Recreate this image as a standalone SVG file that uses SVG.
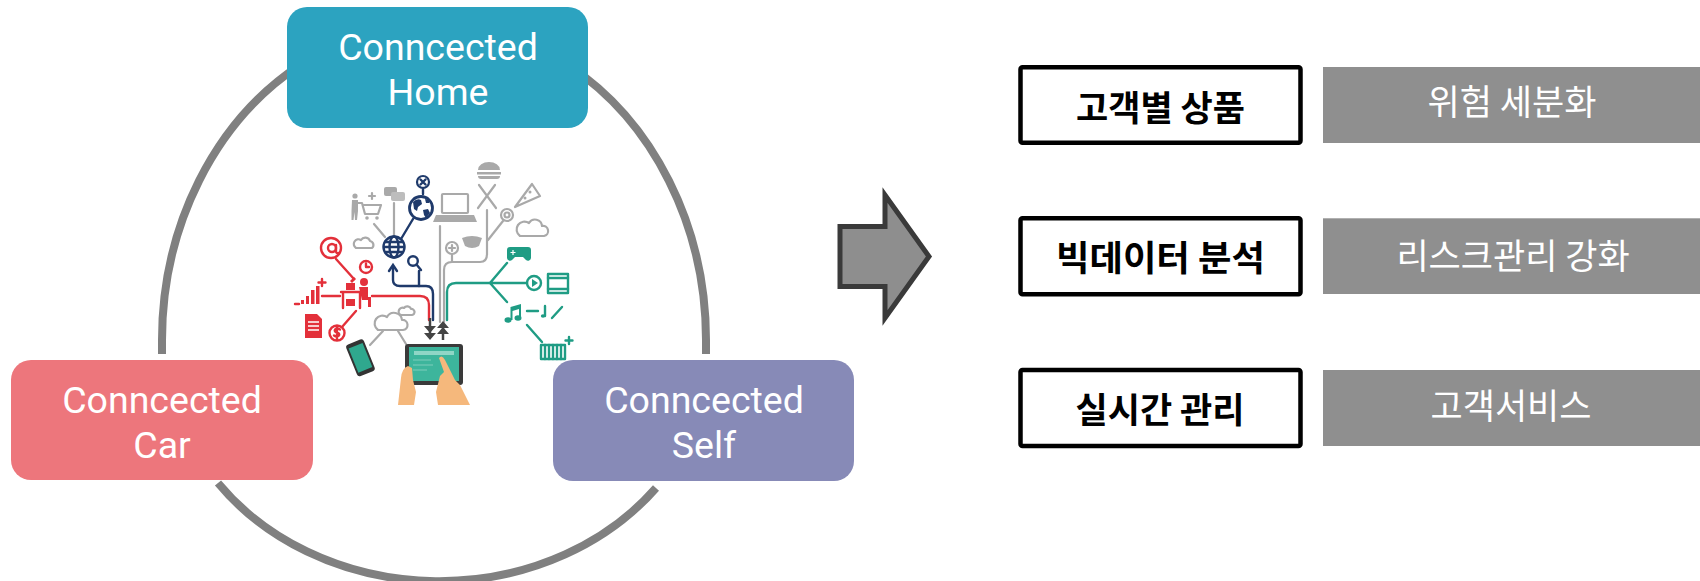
<svg xmlns="http://www.w3.org/2000/svg" width="1700" height="581" viewBox="0 0 1700 581">
<style>
.node-text{font-family:Roboto,"Open Sans",sans-serif;font-size:37.5px;fill:#ffffff;text-anchor:middle}
.kb{font-family:"Noto Sans CJK KR",sans-serif;font-size:35px;font-weight:700;fill:#000000;text-anchor:middle}
.kw{font-family:"Noto Sans CJK KR",sans-serif;font-size:35px;font-weight:400;fill:#ffffff;text-anchor:middle}
.wbox{fill:#ffffff;stroke:#000000;stroke-width:4.5}
.gbox{fill:#8f8f8f}
.arc{fill:none;stroke:#808080;stroke-width:8}
.g{stroke:#a9a9a9;fill:none;stroke-width:2.2;stroke-linecap:round;stroke-linejoin:round}
.gf{fill:#a9a9a9}
.n{stroke:#1f3a6b;fill:none;stroke-width:2.4;stroke-linecap:round}
.nf{fill:#1f3a6b}
.r{stroke:#e3303a;fill:none;stroke-width:2.4;stroke-linecap:round;stroke-linejoin:round}
.rf{fill:#e3303a}
.t{stroke:#1f9c84;fill:none;stroke-width:2.4;stroke-linecap:round;stroke-linejoin:round}
.tf{fill:#1f9c84}
.dk{fill:#444444}
</style>

<g id="connectors">
  <path class="arc" d="M300,65 A272,316 0 0 0 162,340 L162,354"/>
  <path class="arc" d="M568,65 A272,316 0 0 1 706,340 L706,354"/>
  <path class="arc" d="M218,483 A272,235 0 0 0 656,488"/>
</g>

<g id="illustration">
  <g id="ill-gray">
    <circle class="gf" cx="355" cy="196" r="2.6"/>
    <path class="gf" d="M352,200 h6 v11 l-1,9 h-2 l-0.5,-8 l-1,8 h-2 l0,-9 z"/>
    <path class="g" d="M358,203 L362,203 L365,214 H378 L381,205 H364"/>
    <circle class="gf" cx="367" cy="218" r="1.8"/>
    <circle class="gf" cx="377" cy="218" r="1.8"/>
    <path class="g" d="M372,193 v6 M369,196 h6" stroke-width="1.6"/>
    <rect class="gf" x="384" y="187" width="13" height="9" rx="2"/>
    <rect x="391" y="192" width="14" height="9" rx="2" fill="#bdbdbd"/>
    <path class="g" d="M394,203 V235"/>
    <path class="g" d="M374,224 L385,237"/>
    <path class="g" d="M356,248 h16 a4,4 0 0 0 -2,-7 a5,5 0 0 0 -9,-1 a4,4 0 0 0 -5,8 z" stroke-width="1.6"/>
    <rect class="g" x="442" y="194" width="26" height="19" rx="1" stroke-width="2.4"/>
    <path class="gf" d="M436,215 H474 L477,222 H433 Z"/>
    <path class="gf" d="M478,170 a11,8 0 0 1 22,0 z"/>
    <rect class="gf" x="477" y="172" width="24" height="2.5"/>
    <path class="gf" d="M478,176 h22 a3,3 0 0 1 -3,3 h-16 a3,3 0 0 1 -3,-3 z"/>
    <path class="g" d="M479,185 L496,208 M495,185 L478,208" stroke-width="2.6"/>
    <path class="g" d="M515,207 L532,184 L540,196 Z" stroke-width="2.2"/>
    <circle class="gf" cx="530" cy="192" r="1.5"/>
    <circle class="gf" cx="525" cy="198" r="1.5"/>
    <circle class="g" cx="507" cy="215" r="6" stroke-width="2"/>
    <circle class="g" cx="507" cy="215" r="2.5" stroke-width="1.6"/>
    <path class="g" d="M520,236 h24 a5,5 0 0 0 -2,-10 a7,7 0 0 0 -13,-3 a6,6 0 0 0 -9,13 z" stroke-width="1.8"/>
    <path class="g" d="M440,226 V322"/>
    <path class="g" d="M444,322 V270 Q444,262 452,262 H480 Q487,262 487,254 V210"/>
    <circle class="g" cx="452" cy="248" r="6" stroke-width="2"/>
    <path class="g" d="M452,245 v6 M449,248 h6" stroke-width="1.5"/>
    <path class="g" d="M452,254 V262"/>
    <path class="g" d="M503,221 L488,240"/>
    <path class="gf" d="M462,238 Q472,234 482,238 L479,246 Q472,250 465,246 Z"/>
    <path class="g" d="M378,330 h25 a5,5 0 0 0 -1,-10 a8,8 0 0 0 -15,-3 a7,7 0 0 0 -9,13 z" stroke-width="1.8"/>
    <path class="g" d="M401,315 h11 a3,3 0 0 0 -1,-6 a4,4 0 0 0 -7,-1 a3,3 0 0 0 -3,7 z" stroke-width="1.5"/>
    <path class="g" d="M383,331 L370,345 M398,331 L406,344"/>
  </g>
  <g id="ill-navy">
    <circle class="n" cx="394" cy="247" r="10.5"/>
    <ellipse class="n" cx="394" cy="247" rx="4.5" ry="10.5" stroke-width="1.6"/>
    <path class="n" d="M384,247 H404 M385.5,242 H402.5 M385.5,252 H402.5" stroke-width="1.4"/>
    <circle cx="421" cy="208" r="11.5" fill="#ffffff" stroke="#1f3a6b" stroke-width="2.8"/>
    <path class="nf" d="M413,202 q4,-4 8,-2 l1,4 l-4,3 l-1,4 l-3,-2 z M423,210 l5,-1 l2,4 l-4,5 l-2,-3 z M425,199 l4,1 l0,3 l-3,0 z"/>
    <circle cx="423" cy="182" r="6" fill="#ffffff" stroke="#1f3a6b" stroke-width="2.2"/>
    <path class="n" d="M420.5,179.5 l5,5 M425.5,179.5 l-5,5 M423,188 V194" stroke-width="1.8"/>
    <path class="n" d="M401,239 L413,219"/>
    <circle class="n" cx="413" cy="261" r="4.8"/>
    <path class="n" d="M416.5,264.5 L421,270" stroke-width="3"/>
    <path class="n" d="M393,268 V280 Q393,286 400,286 H426 Q433,286 433,294 V320"/>
    <path class="n" d="M419,271 V286"/>
    <path class="n" d="M389,271 L393,265 L397,271"/>
  </g>
  <g id="ill-red">
    <circle class="r" cx="331" cy="248" r="10"/>
    <circle class="r" cx="332" cy="248" r="4"/>
    <path class="r" d="M336,245 V251 Q336,254 339,253"/>
    <circle class="r" cx="366" cy="267" r="6" stroke-width="2"/>
    <path class="r" d="M366,263.5 V267 H369" stroke-width="1.6"/>
    <circle class="rf" cx="364" cy="282" r="4"/>
    <path class="rf" d="M359,287 h9 v10 l3,0 v10 h-3 v-7 h-6 z"/>
    <rect class="rf" x="346" y="283" width="9" height="7"/>
    <path class="r" d="M341,292 H366 M343,292 V308 M360,292 V308" stroke-width="2"/>
    <rect class="rf" x="346" y="299" width="9" height="7"/>
    <path class="rf" d="M350,281 l4,-4 l2,2 l-4,4 z"/>
    <rect class="rf" x="301" y="300" width="3" height="4"/>
    <rect class="rf" x="306" y="296" width="3" height="8"/>
    <rect class="rf" x="311" y="290" width="3.5" height="14"/>
    <rect class="rf" x="316" y="286" width="3.5" height="18"/>
    <path class="r" d="M322,279 v7 M318.5,282.5 h7 M295,304 h4" stroke-width="1.6"/>
    <path class="r" d="M322,296 H340"/>
    <path class="rf" d="M305,314 h12 l5,5 v19 h-17 z"/>
    <path d="M308,322 h11 M308,326 h11 M308,330 h11" stroke="#ffffff" stroke-width="1.3"/>
    <circle class="r" cx="337" cy="333" r="7.5"/>
    <path class="r" d="M340,329.5 q-3,-2 -5,0 q-1,2 2,3 q3,1 2,3 q-2,2 -5,0 M337,327 V339" stroke-width="1.4"/>
    <path class="r" d="M342,327 L356,311"/>
    <path class="r" d="M336,259 L354,279"/>
    <path class="r" d="M372,296 H420 Q429,296 429,305 V320"/>
  </g>
  <g id="ill-teal">
    <path class="t" d="M447,320 V292 Q447,283 456,283 H490"/>
    <path class="t" d="M490,283 L507,263 M490,283 H527 M490,283 L507,302"/>
    <path class="tf" d="M510,247 h18 a3,3 0 0 1 3,3 v8 a3,3 0 0 1 -5,2 l-3,-3 h-8 l-3,3 a3,3 0 0 1 -5,-2 v-8 a3,3 0 0 1 3,-3 z"/>
    <path d="M513,250 v5 M510.5,252.5 h5" stroke="#ffffff" stroke-width="1.2"/>
    <circle class="t" cx="534" cy="283" r="7"/>
    <path class="tf" d="M532,279 L538,283 L532,287 Z"/>
    <rect class="t" x="548" y="274" width="20" height="19" stroke-width="2"/>
    <path class="t" d="M548,278 H568 M548,289 H568" stroke-width="1.5"/>
    <ellipse class="tf" cx="508" cy="320" rx="3.5" ry="2.8"/>
    <ellipse class="tf" cx="518" cy="318" rx="3.5" ry="2.8"/>
    <path class="tf" d="M510.5,320 V307 L521,304 V318 h-2 V309 L512.5,311 V320 z"/>
    <path class="t" d="M527,311 H538"/>
    <ellipse class="tf" cx="543" cy="316" rx="2.2" ry="1.8"/>
    <path class="t" d="M545,316 V306" stroke-width="1.4"/>
    <path class="t" d="M552,318 L562,307" stroke-width="4"/>
    <path class="t" d="M527,325 L542,342"/>
    <rect class="t" x="541" y="345" width="24" height="14" stroke-width="1.5"/>
    <path class="t" d="M545,345 V359 M549,345 V359 M553,345 V359 M557,345 V359 M561,345 V359" stroke-width="1.2"/>
    <path class="t" d="M569,337 v7 M565.5,340.5 h7" stroke-width="1.6"/>
  </g>
  <g id="ill-arrows">
    <path d="M430,318 V334" stroke="#444444" stroke-width="2.5"/>
    <path class="dk" d="M424,326 H436 L430,333 Z M424,333 H436 L430,340 Z"/>
    <path d="M443,340 V324" stroke="#444444" stroke-width="2.5"/>
    <path class="dk" d="M437,328 H449 L443,321 Z M437,334 H449 L443,327 Z"/>
  </g>
  <g id="ill-devices">
    <rect x="405" y="344" width="58" height="41" rx="3" fill="#3a3a3a"/>
    <rect x="409" y="347" width="50" height="34" fill="#3db59c"/>
    <rect x="414" y="351" width="40" height="4" fill="#8fd6c6"/>
    <path d="M413,360 h18 M413,365 h20 M413,370 h14" stroke="#7fcdbb" stroke-width="1"/>
    <path d="M398,405 L401,378 Q402,368 408,366 L412,368 L413,380 L416,392 L414,405 Z" fill="#f5b87c"/>
    <path d="M470,405 L460,385 L455,380 L445,360 Q442,354 439,358 L444,372 L440,376 L436,392 L438,405 Z" fill="#f5b87c"/>
    <g transform="rotate(-22 360 358)">
      <rect x="351" y="341" width="19" height="34" rx="3" fill="#333333"/>
      <rect x="353" y="345" width="15" height="26" fill="#2fa88e"/>
    </g>
  </g>
</g>

<g id="node-home">
  <rect x="287" y="7" width="301" height="121" rx="20" fill="#2ca3c0"/>
  <text class="node-text"><tspan x="438" y="60">Conncected</tspan><tspan x="438" y="105">Home</tspan></text>
</g>
<g id="node-car">
  <rect x="11" y="360" width="302" height="120" rx="20" fill="#ed767c"/>
  <text class="node-text"><tspan x="162" y="413">Conncected</tspan><tspan x="162" y="458">Car</tspan></text>
</g>
<g id="node-self">
  <rect x="553" y="360" width="301" height="121" rx="20" fill="#878ab7"/>
  <text class="node-text"><tspan x="704" y="413">Conncected</tspan><tspan x="704" y="458">Self</tspan></text>
</g>

<g id="big-arrow">
  <path d="M840,226.5 H885 V195 L929,256.5 L885,318 V286.5 H840 Z" fill="#8e8e8e" stroke="#3a3a3a" stroke-width="5" stroke-linejoin="miter"/>
</g>

<g id="row-1">
  <rect class="wbox" x="1020.5" y="67.3" width="280" height="75.5" rx="2"/>
  <text class="kb" x="1160.5" y="121">고객별 상품</text>
  <rect class="gbox" x="1323" y="67" width="377" height="76"/>
  <text class="kw" x="1512" y="115">위험 세분화</text>
</g>
<g id="row-2">
  <rect class="wbox" x="1020.5" y="218.3" width="280" height="76" rx="2"/>
  <text class="kb" x="1160.5" y="271" textLength="209" lengthAdjust="spacingAndGlyphs">빅데이터 분석</text>
  <rect class="gbox" x="1323" y="218.3" width="377" height="75.7"/>
  <text class="kw" x="1513" y="268.5">리스크관리 강화</text>
</g>
<g id="row-3">
  <rect class="wbox" x="1020.5" y="370" width="280" height="76" rx="2"/>
  <text class="kb" x="1160" y="423">실시간 관리</text>
  <rect class="gbox" x="1323" y="370" width="377" height="76"/>
  <text class="kw" x="1511" y="418.5">고객서비스</text>
</g>
</svg>
